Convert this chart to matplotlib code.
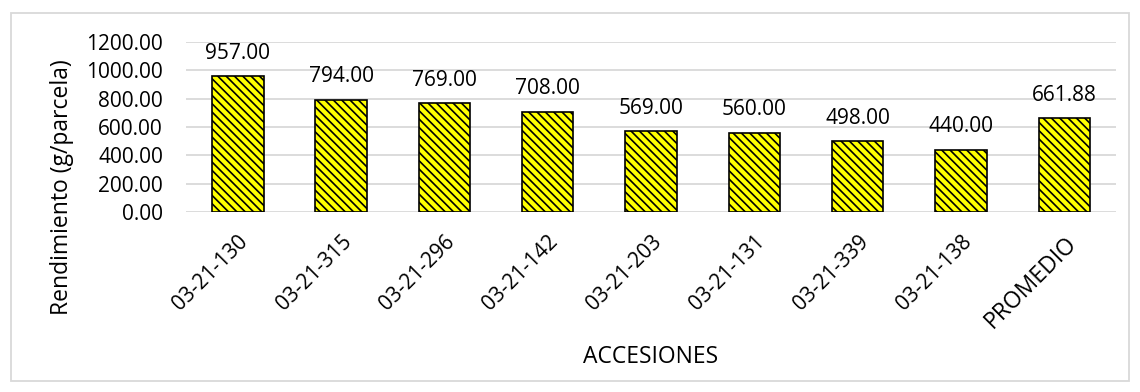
import matplotlib
matplotlib.use("Agg")
import matplotlib.pyplot as plt
from matplotlib.patches import Rectangle

# Data
accesiones = ["03-21-130", "03-21-315", "03-21-296", "03-21-142", "03-21-203",
              "03-21-131", "03-21-339", "03-21-138", "PROMEDIO"]
rendimiento = [957.00, 794.00, 769.00, 708.00, 569.00, 560.00, 498.00, 440.00, 661.88]
y_ticks = [0, 200, 400, 600, 800, 1000, 1200]

plt.rcParams['font.family'] = ['Open Sans', 'DejaVu Sans']
plt.rcParams['hatch.color'] = '#111111'
plt.rcParams['hatch.linewidth'] = 1.2

W, H = 1140, 392
FS = 15       # numbers
FS_TXT = 16.5  # axis titles

fig = plt.figure(figsize=(W / 100, H / 100), dpi=100)
# light outer border like the spreadsheet chart area
fig.patches.append(Rectangle((11 / W, 1 - 381 / H), 1118 / W, 368 / H,
                             transform=fig.transFigure, fill=False,
                             edgecolor='#d9d9d9', linewidth=1.3))

ax = fig.add_axes([186 / W, 1 - 212 / H, 930 / W, 170 / H])

x = list(range(len(accesiones)))
ax.bar(x, rendimiento, width=0.5, color='#ffff00', edgecolor='black',
       linewidth=1.2, hatch='\\\\\\\\', zorder=3)

for xi, v in zip(x, rendimiento):
    ax.annotate(f"{v:.2f}", (xi, v), xytext=(0, 12.5), textcoords='offset points',
                ha='center', va='baseline', fontsize=FS)

ax.set_xlim(-0.5, len(accesiones) - 0.5)
ax.set_ylim(0, 1200)
ax.set_yticks(y_ticks)
ax.set_yticklabels([f"{t:.2f}" for t in y_ticks], fontsize=FS)
ax.set_xticks(x)
ax.set_xticklabels(accesiones, rotation=45, ha='right', va='top',
                   rotation_mode='anchor', fontsize=FS)
ax.get_xticklabels()[-1].set_fontsize(FS_TXT)
ax.tick_params(axis='y', length=0, pad=16.5)
ax.tick_params(axis='x', length=0, pad=14)
ax.grid(axis='y', color='#d9d9d9', linewidth=1.3, zorder=0)
for s in ax.spines.values():
    s.set_visible(False)

fig.text(62 / W, 1 - 187 / H, "Rendimiento (g/parcela)", rotation=90,
         ha='center', va='center', fontsize=FS_TXT)
fig.text(651 / W, 1 - 357 / H, "ACCESIONES", ha='center', va='center', fontsize=FS_TXT)

fig.savefig("out.png", dpi=100)
